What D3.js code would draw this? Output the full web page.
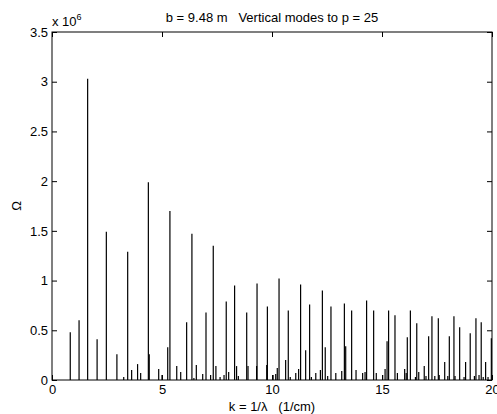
<!DOCTYPE html>
<html>
<head>
<meta charset="utf-8">
<script src="https://cdn.jsdelivr.net/npm/d3@7"></script>
<style>
  body { margin: 0; background: #fff; }
  text { font-family: "Liberation Sans", Arial, sans-serif; }
</style>
</head>
<body>
<svg class="chart" width="497" height="414"></svg>
<script>
// spike positions k (1/cm) and heights (x 10^6)
var kVals = [0.83, 1.23, 1.62, 2.05, 2.47, 2.95, 3.26, 3.44, 3.62, 3.89, 4.03, 4.38, 4.42,
  4.85, 5.0, 5.26, 5.36, 5.67, 5.85, 6.12, 6.36, 6.45, 6.56, 6.85, 7.0, 7.21, 7.33, 7.45,
  7.64, 7.82, 7.92, 8.03, 8.3, 8.39, 8.47, 8.85, 8.91, 9.3, 9.32, 9.76, 9.79, 10.05, 10.17,
  10.24, 10.32, 10.62, 10.74, 10.83, 11.08, 11.21, 11.3, 11.53, 11.71, 11.79, 11.99, 12.2,
  12.29, 12.42, 12.53, 12.68, 12.9, 13.17, 13.29, 13.35, 13.62, 13.82, 14.12, 14.23, 14.3,
  14.62, 14.74, 15.03, 15.14, 15.23, 15.3, 15.59, 15.7, 16.03, 16.1, 16.15, 16.29, 16.52,
  16.58, 16.67, 16.92, 17.0, 17.12, 17.27, 17.4, 17.56, 17.6, 17.85, 17.99, 18.06, 18.27,
  18.32, 18.53, 18.73, 18.8, 19.01, 19.2, 19.27, 19.41, 19.51, 19.6, 19.71, 19.82, 19.97];
var omegaVals = [0.48, 0.60, 3.03, 0.41, 1.49, 0.26, 0.03, 1.29, 0.10, 0.16, 0.07, 1.99, 0.26,
  0.11, 0.05, 0.33, 1.70, 0.14, 0.08, 0.58, 1.47, 0.02, 0.15, 0.06, 0.68, 0.05, 1.35, 0.14,
  0.03, 0.05, 0.79, 0.08, 0.95, 0.14, 0.04, 0.68, 0.14, 0.14, 0.97, 0.15, 0.74, 0.05, 0.06,
  0.12, 1.02, 0.20, 0.70, 0.03, 0.07, 0.11, 0.96, 0.30, 0.76, 0.03, 0.07, 0.10,
  0.90, 0.33, 0.04, 0.74, 0.07, 0.09, 0.77, 0.34, 0.70, 0.10, 0.07, 0.08, 0.80,
  0.70, 0.07, 0.05, 0.11, 0.39, 0.70, 0.65, 0.07, 0.11, 0.07, 0.43, 0.70, 0.03,
  0.57, 0.08, 0.14, 0.04, 0.44, 0.64, 0.04, 0.62, 0.05, 0.18, 0.04, 0.44, 0.64,
  0.04, 0.53, 0.03, 0.18, 0.47, 0.04, 0.62, 0.05, 0.58, 0.03, 0.18, 0.03, 0.42];
var xTicks = [0, 5, 10, 15, 20];
var yTicks = [0, 0.5, 1, 1.5, 2, 2.5, 3, 3.5];

var svg = d3.select(".chart"),
    margin = { top: 32, right: 5, bottom: 34, left: 52 },
    width = +svg.attr("width") - margin.left - margin.right,
    height = +svg.attr("height") - margin.top - margin.bottom;

var x = d3.scaleLinear().domain([0, 20]).range([0, width]),
    y = d3.scaleLinear().domain([0, 3.5]).range([height, 0]);

var g = svg.append("g")
    .attr("transform", "translate(" + margin.left + "," + margin.top + ")");

var data = kVals.map(function(k, i) { return { k: k, v: omegaVals[i] }; });

// stems
g.selectAll(".stem")
    .data(data)
    .enter().append("line")
    .attr("class", "stem")
    .attr("x1", function(d) { return x(d.k); })
    .attr("x2", function(d) { return x(d.k); })
    .attr("y1", y(0))
    .attr("y2", function(d) { return y(d.v); })
    .attr("stroke", "#000")
    .attr("stroke-width", 1.2);

// axes, matlab style ticks inside
function styleAxis(sel) {
    sel.select(".domain").remove();
    sel.selectAll("line").attr("stroke", "#000");
    sel.selectAll("text").attr("font-size", "13px").attr("fill", "#000");
}

g.append("g")
    .attr("transform", "translate(0," + height + ")")
    .call(d3.axisBottom(x).tickValues(xTicks).tickSizeInner(-5).tickSizeOuter(0).tickPadding(5))
    .call(styleAxis);

g.append("g")
    .call(d3.axisLeft(y).tickValues(yTicks).tickSizeInner(-5).tickSizeOuter(0).tickPadding(4)
        .tickFormat(d3.format("")))
    .call(styleAxis);

g.append("g")
    .call(d3.axisTop(x).tickValues(xTicks).tickSizeInner(-5).tickSizeOuter(0).tickFormat(""))
    .call(styleAxis);

g.append("g")
    .attr("transform", "translate(" + width + ",0)")
    .call(d3.axisRight(y).tickValues(yTicks).tickSizeInner(-5).tickSizeOuter(0).tickFormat(""))
    .call(styleAxis);

// box
g.append("rect")
    .attr("width", width)
    .attr("height", height)
    .attr("fill", "none")
    .attr("stroke", "#000")
    .attr("stroke-width", 1);

// exponent label
var ex = svg.append("text")
    .attr("x", margin.left)
    .attr("y", margin.top - 6)
    .attr("font-size", "13px");
ex.append("tspan").text("x 10");
ex.append("tspan").attr("dy", -6).attr("font-size", "9px").text("6");

svg.append("text")
    .attr("x", margin.left + width / 2)
    .attr("y", 22)
    .attr("text-anchor", "middle")
    .attr("font-size", "13px")
    .attr("xml:space", "preserve")
    .text("b = 9.48 m   Vertical modes to p = 25");

svg.append("text")
    .attr("x", margin.left + width / 2)
    .attr("y", 411)
    .attr("text-anchor", "middle")
    .attr("font-size", "13px")
    .attr("xml:space", "preserve")
    .text("k = 1/\u03bb   (1/cm)");

svg.append("text")
    .attr("transform", "translate(21," + (margin.top + height / 2) + ") rotate(-90)")
    .attr("text-anchor", "middle")
    .attr("font-size", "13px")
    .text("\u03a9");
</script>
</body>
</html>
